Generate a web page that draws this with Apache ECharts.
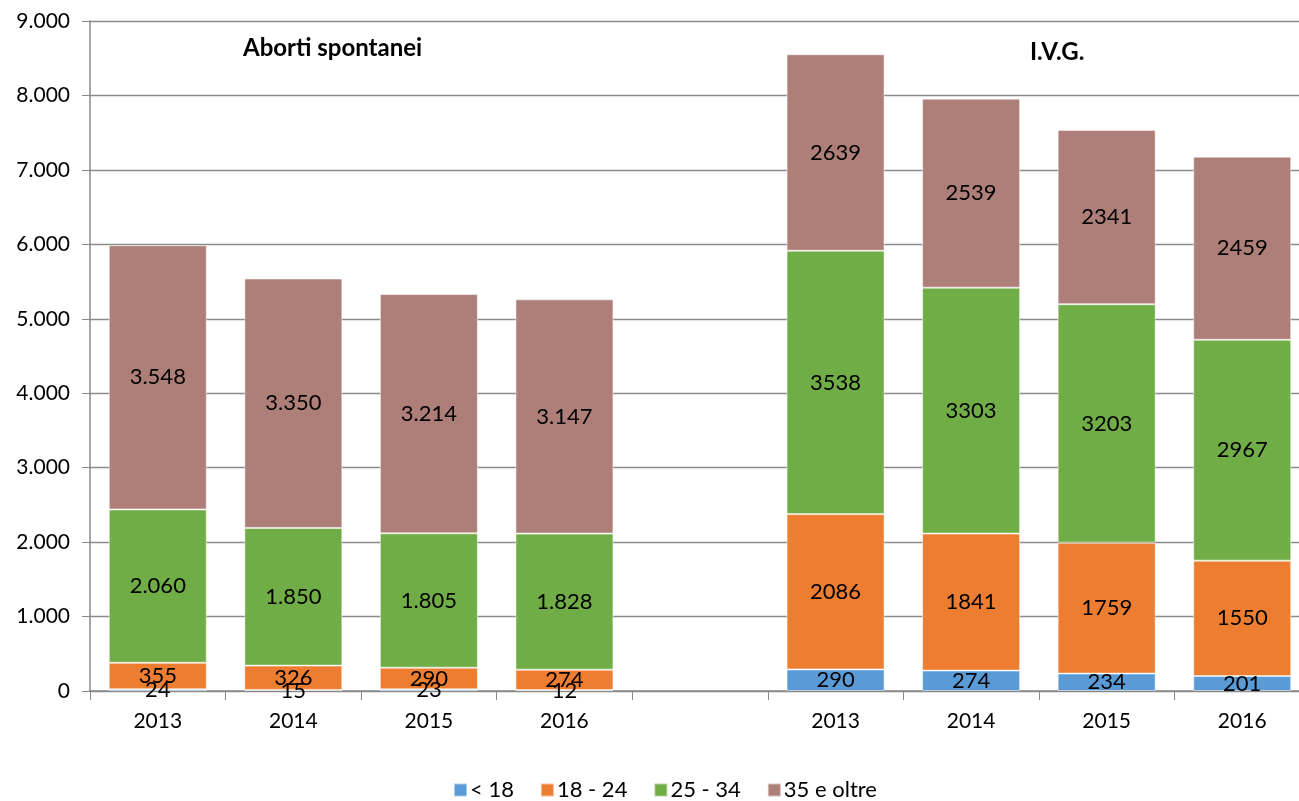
<!DOCTYPE html>
<html>
<head>
<meta charset="utf-8">
<script src="https://cdn.jsdelivr.net/npm/echarts@6/dist/echarts.min.js"></script>
<style>html,body{margin:0;padding:0;background:#fff;overflow:hidden}#c{width:1310px;height:801px}</style>
</head>
<body>
<div id="c"></div>
<script>
const categories = ['2013','2014','2015','2016','','2013','2014','2015','2016'];
const seriesNames = ['< 18','18 - 24','25 - 34','35 e oltre'];
// Aborti spontanei
const spontUnder18 = [24, 15, 23, 12];
const spont18_24 = [355, 326, 290, 274];
const spont25_34 = [2060, 1850, 1805, 1828];
const spont35plus = [3548, 3350, 3214, 3147];
// I.V.G.
const ivgUnder18 = [290, 274, 234, 201];
const ivg18_24 = [2086, 1841, 1759, 1550];
const ivg25_34 = [3538, 3303, 3203, 2967];
const ivg35plus = [2639, 2539, 2341, 2459];
const yTicks = [0,1000,2000,3000,4000,5000,6000,7000,8000,9000];

const colors = ['#5B9BD5','#ED7D31','#70AD47','#AD7F78'];
const spont = [spontUnder18, spont18_24, spont25_34, spont35plus];
const ivg = [ivgUnder18, ivg18_24, ivg25_34, ivg35plus];

function dotFmt(v){ return String(v).replace(/\B(?=(\d{3})+(?!\d))/g,'.'); }

const FONT = 'Lato';
const series = seriesNames.map((name,i)=>({
  name: name,
  type: 'bar',
  stack: 'total',
  barWidth: 98,
  data: spont[i].concat([null]).concat(ivg[i]),
  itemStyle: { color: colors[i], borderColor: 'rgba(255,255,255,0.5)', borderWidth: 1 },
  label: {
    show: true,
    position: 'inside',
    color: '#000',
    fontFamily: FONT,
    fontSize: 22,
    formatter: p => p.value == null ? '' : (p.dataIndex < 4 ? dotFmt(p.value) : String(p.value))
  }
}));

const chart = echarts.init(document.getElementById('c'));
chart.setOption({
  animation: false,
  color: colors,
  textStyle: { fontFamily: FONT },
  title: [
    { text: 'Aborti spontanei', left: 238, top: 31, textStyle: { fontFamily: FONT, fontWeight: 'bold', fontSize: 24, color: '#000' } },
    { text: 'I.V.G.', left: 1025, top: 35, textStyle: { fontFamily: FONT, fontWeight: 'bold', fontSize: 24, color: '#000' } }
  ],
  legend: {
    bottom: -5,
    left: 448,
    itemWidth: 13,
    itemHeight: 13,
    itemGap: 26,
    icon: 'rect',
    textStyle: { fontFamily: FONT, fontSize: 22, color: '#000', padding: [0,0,0,-2] },
    data: seriesNames
  },
  grid: { left: 90, top: 21, right: 0, bottom: 110 },
  xAxis: {
    type: 'category',
    data: categories,
    axisLine: { lineStyle: { color: '#888', width: 1.5 } },
    axisTick: { show: true, length: 9, lineStyle: { color: '#888' } },
    axisLabel: { color: '#000', fontFamily: FONT, fontSize: 21, margin: 20 }
  },
  yAxis: {
    type: 'value',
    min: yTicks[0],
    max: yTicks[yTicks.length-1],
    interval: 1000,
    axisLine: { show: true, lineStyle: { color: '#888', width: 1.5 } },
    axisTick: { show: true, length: 8, lineStyle: { color: '#888' } },
    splitLine: { lineStyle: { color: '#8c8c8c', width: 1.3 } },
    axisLabel: { color: '#000', fontFamily: FONT, fontSize: 21, margin: 20, formatter: v => dotFmt(v) }
  },
  series: series
});
</script>
</body>
</html>
